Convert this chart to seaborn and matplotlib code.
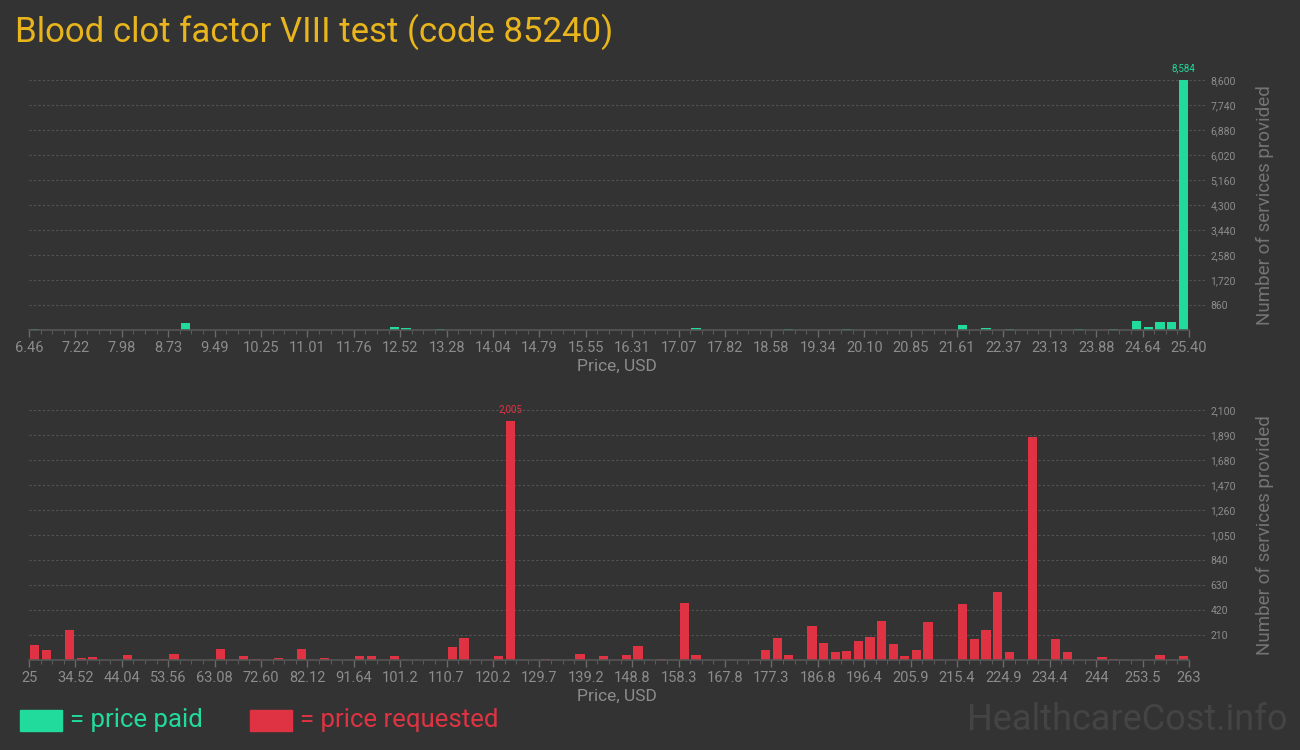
import numpy as np
import pandas as pd
import seaborn as sns
import matplotlib.pyplot as plt
from matplotlib import font_manager
from matplotlib.patches import Rectangle

# price paid histogram (bin index -> number of services), 100 bins from 6.46 to 25.40
paid_bins = [0, 13, 31, 32, 35, 57, 65, 70, 80, 82, 84, 90, 93, 95, 96, 97, 98, 99]
paid_counts = [40, 240, 100, 70, 35, 70, 35, 35, 170, 70, 35, 35, 35, 310, 100, 275, 275, 8584]
paid_ticks = ['6.46', '7.22', '7.98', '8.73', '9.49', '10.25', '11.01', '11.76', '12.52',
              '13.28', '14.04', '14.79', '15.55', '16.31', '17.07', '17.82', '18.58', '19.34',
              '20.10', '20.85', '21.61', '22.37', '23.13', '23.88', '24.64', '25.40']

# price requested histogram, 100 bins from 25 to 263
req_bins = [0, 1, 3, 4, 5, 8, 11, 12, 16, 18, 19, 21, 23, 25, 28, 29, 31, 36, 37, 40,
            41, 44, 47, 49, 51, 52, 54, 56, 57, 63, 64, 65, 67, 68, 69, 70, 71, 72, 73, 74,
            75, 76, 77, 80, 81, 82, 83, 84, 86, 87, 88, 89, 92, 93, 97, 99]
req_counts = [130, 87, 255, 20, 28, 45, 12, 53, 95, 36, 12, 20, 95, 20, 36, 36, 36, 112, 188, 36,
              2005, 12, 53, 36, 45, 120, 12, 482, 45, 87, 188, 45, 288, 146, 70, 78, 162, 196, 330, 137,
              36, 87, 322, 473, 179, 255, 574, 70, 1870, 12, 179, 70, 28, 12, 45, 36]
req_ticks = ['25', '34.52', '44.04', '53.56', '63.08', '72.60', '82.12', '91.64', '101.2',
             '110.7', '120.2', '129.7', '139.2', '148.8', '158.3', '167.8', '177.3', '186.8',
             '196.4', '205.9', '215.4', '224.9', '234.4', '244', '253.5', '263']

N_BINS = 100
BG = '#333333'
GREEN = '#20db9b'
RED = '#df3343'

sns.set_theme(style='dark', rc={'figure.facecolor': BG, 'axes.facecolor': BG,
                                'savefig.facecolor': BG})
installed = {f.name for f in font_manager.fontManager.ttflist}
main_font = 'Liberation Sans Narrow' if 'Liberation Sans Narrow' in installed else 'Roboto'
plt.rcParams['font.family'] = [main_font, 'DejaVu Sans']


def full_counts(bins, counts):
    arr = np.zeros(N_BINS)
    arr[bins] = counts
    return arr


def draw_panel(ax, counts, color, ticklabels, ymax, ystep):
    df = pd.DataFrame({'bin': np.arange(N_BINS), 'count': counts})
    sns.barplot(data=df, x='bin', y='count', color=color, saturation=1,
                width=0.78, errorbar=None, linewidth=0, edgecolor='none', ax=ax)
    ax.set_xlim(-0.5, N_BINS + 0.88)
    ax.set_ylim(0, ymax)

    # x axis: label every 4 bins, small tick on every bin edge
    ax.set_xticks([-0.5 + 4 * k for k in range(len(ticklabels))])
    ax.set_xticklabels(ticklabels)
    ax.set_xticks(np.arange(-0.5, N_BINS, 1), minor=True)
    ax.tick_params(axis='x', which='major', direction='out', length=5, width=1,
                   color='#6a6a6a', labelcolor='#8c8c8c', labelsize=10.5, pad=3, bottom=True)
    ax.tick_params(axis='x', which='minor', direction='out', length=3, width=0.8,
                   color='#5a5a5a', bottom=True)
    ax.set_xlabel('Price, USD', color='#8c8c8c', fontsize=12.5, labelpad=3)

    # y axis on the right, no tick marks
    ax.yaxis.tick_right()
    ax.set_yticks(np.arange(ystep, ymax + 1, ystep))
    ax.yaxis.set_major_formatter('{x:,.0f}')
    ax.tick_params(axis='y', length=0, labelsize=7.5, pad=4, labelcolor='#8c8c8c', right=True)
    ax.yaxis.set_label_position('right')
    ax.set_ylabel('Number of services provided', color='#747474', fontsize=13.5, labelpad=14)

    ax.grid(axis='y', linestyle=(0, (2, 2)), color='#555555', linewidth=0.8)
    ax.grid(axis='x', visible=False)
    ax.set_axisbelow(True)
    for side in ['top', 'left', 'right']:
        ax.spines[side].set_visible(False)
    ax.spines['bottom'].set_color('#555555')
    ax.spines['bottom'].set_linewidth(1.2)
    ax.spines['bottom'].set_bounds(-0.5, N_BINS - 0.5)

    # peak value above the highest bar
    top = int(np.argmax(counts))
    ax.annotate(f'{int(counts[top]):,}', (top, counts[top]), xytext=(0, 5),
                textcoords='offset points', ha='center', va='bottom',
                color=color, fontsize=7, annotation_clip=False)


fig = plt.figure(figsize=(13, 7.5), dpi=100)
ax_paid = fig.add_axes([29 / 1300, 1 - 330 / 750, 1176 / 1300, 250 / 750])
ax_req = fig.add_axes([29 / 1300, 1 - 660 / 750, 1176 / 1300, 250 / 750])

draw_panel(ax_paid, full_counts(paid_bins, paid_counts), GREEN, paid_ticks, 8600, 860)
draw_panel(ax_req, full_counts(req_bins, req_counts), RED, req_ticks, 2100, 210)

fig.text(15 / 1300, 1 - 32 / 750, 'Blood clot factor VIII test (code 85240)',
         color='#e8b51d', fontsize=25, ha='left', va='center')

# legend squares at the bottom
fig.patches.append(Rectangle((20 / 1300, 1 - 731 / 750), 42 / 1300, 21 / 750,
                             transform=fig.transFigure, color=GREEN))
fig.text(70 / 1300, 1 - 720 / 750, '= price paid', color=GREEN, fontsize=18.5,
         ha='left', va='center')
fig.patches.append(Rectangle((250 / 1300, 1 - 731 / 750), 42 / 1300, 21 / 750,
                             transform=fig.transFigure, color=RED))
fig.text(300 / 1300, 1 - 720 / 750, '= price requested', color=RED, fontsize=18.5,
         ha='left', va='center')

fig.text(1288 / 1300, 1 - 720 / 750, 'HealthcareCost.info', color='#444444',
         fontsize=26, ha='right', va='center')

plt.savefig('out.png', dpi=100)
plt.close()
